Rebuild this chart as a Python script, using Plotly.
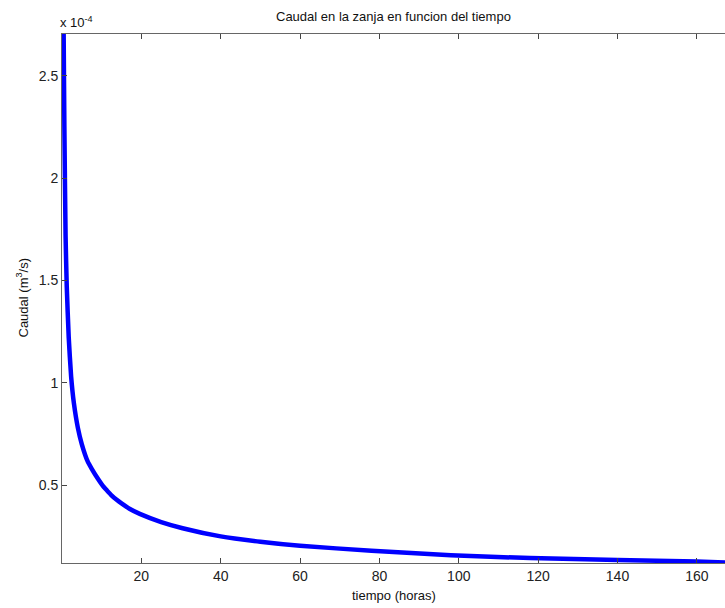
import plotly.graph_objects as go

# Data (caudal in units of 1e-4 m^3/s)
tiempo = [0.3, 0.4, 0.6, 0.9, 1.2, 1.7, 2.3, 3.0, 4.0, 5.0, 6.5, 7.5, 8.6, 10.3, 11.3,
          12.4, 13.7, 15.0, 17.0, 19.6, 25.0, 30.4, 40.0, 50.0, 60.0, 78.0, 98.0, 118.0,
          140.0, 160.0, 168.0]
caudal = [3.10, 2.75, 2.25, 1.72, 1.47, 1.22, 1.03, 0.90, 0.78, 0.70, 0.615, 0.58, 0.545,
          0.497, 0.475, 0.452, 0.43, 0.411, 0.385, 0.36, 0.32, 0.29, 0.25, 0.224, 0.204,
          0.18, 0.158, 0.144, 0.135, 0.127, 0.122]

x_ticks = [20, 40, 60, 80, 100, 120, 140, 160]
y_ticks = [0.5, 1, 1.5, 2, 2.5]
y_tick_text = ["0.5", "1", "1.5", "2", "2.5"]

title_text = "Caudal en la zanja en funcion del tiempo"
x_label = "tiempo (horas)"
y_label = "Caudal (m<sup>3</sup>/s)"
exp_label = "x 10<sup>-4</sup>"

fig = go.Figure()
fig.add_trace(go.Scatter(x=tiempo, y=caudal, mode="lines",
                         line=dict(color="#0000ff", width=4.5, shape="spline", smoothing=0.5),
                         showlegend=False, cliponaxis=True))

axis_font = dict(family="Liberation Sans, Arial, sans-serif", size=14, color="#222222")
label_font = dict(family="Liberation Sans, Arial, sans-serif", size=13, color="#111111")

fig.update_layout(
    width=725, height=608,
    margin=dict(l=62, r=0, t=34, b=45),
    paper_bgcolor="white", plot_bgcolor="white",
    font=dict(family="Liberation Sans, Arial, sans-serif", size=13, color="#111111"),
    xaxis=dict(range=[0, 167.1], tickvals=x_ticks, ticks="inside", ticklen=5,
               tickcolor="#444444", showline=True, linecolor="#666666", linewidth=1,
               mirror="ticks", showgrid=False, zeroline=False, tickfont=axis_font),
    yaxis=dict(range=[0.12, 2.704], tickvals=y_ticks, ticktext=y_tick_text,
               ticks="inside", ticklen=5, tickcolor="#444444", showline=True,
               linecolor="#666666", linewidth=1, showgrid=False, zeroline=False,
               tickfont=axis_font),
    annotations=[
        dict(text=title_text, xref="paper", yref="paper", x=0.5, y=1, yanchor="bottom",
             yshift=8, showarrow=False, font=label_font),
        dict(text=x_label, xref="paper", yref="paper", x=0.5, y=0, yanchor="middle",
             yshift=-32, showarrow=False, font=label_font),
        dict(text=y_label, xref="paper", yref="paper", x=0, y=0.5, xanchor="center",
             xshift=-40, textangle=-90, showarrow=False, font=label_font),
        dict(text=exp_label, xref="paper", yref="paper", x=0, y=1, xanchor="left",
             yanchor="bottom", xshift=-4, yshift=2, showarrow=False, font=label_font),
    ],
)

fig.write_html("out.html")
